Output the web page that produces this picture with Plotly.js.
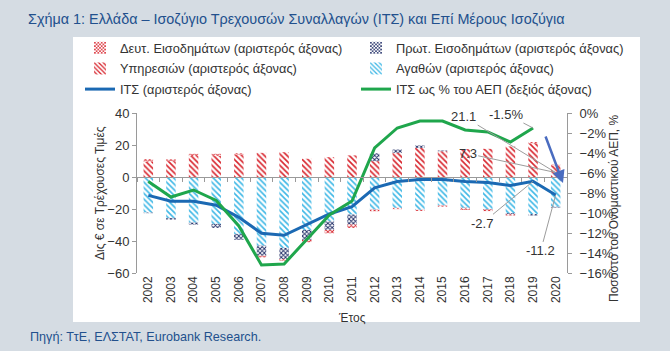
<!DOCTYPE html>
<html>
<head>
<meta charset="utf-8">
<script src="https://cdn.plot.ly/plotly-3.0.1.min.js"></script>
<style>
html,body{margin:0;padding:0;background:#d5dce3;}
#chart{width:670px;height:351px;}
</style>
</head>
<body>
<div id="chart"></div>
<script>
// ---- data (billions €, and % of GDP) ----
const years = ['2002','2003','2004','2005','2006','2007','2008','2009','2010','2011','2012','2013','2014','2015','2016','2017','2018','2019','2020'];
const services  = [9.6, 9.9, 13.2, 13.3, 14.0, 15.1, 15.5, 11.4, 12.4, 13.5, 9.9, 15.2, 18.2, 16.1, 17.4, 17.6, 19.1, 21.1, 7.3];
const goods     = [-22.2, -25.6, -28.5, -29.3, -35.6, -42.9, -44.3, -33.1, -27.7, -23.5, -20.4, -19.3, -20.5, -17.8, -19.2, -20.0, -22.6, -23.2, -18.6];
const primaryInc   = [-0.4, -1.0, -1.2, -2.5, -3.7, -6.3, -6.9, -6.2, -5.4, -6.2, 5.0, 2.0, 1.5, 0.5, -0.4, -0.3, -0.8, -0.9, -0.5];
const secondaryInc = [1.5, 1.1, 1.3, 1.2, 0.9, -1.0, -1.1, -1.5, -2.1, -2.1, -1.0, -0.8, -0.7, -0.7, -1.0, -1.0, -0.7, 0.7, 0.4];
const currentAccount = [-11.5, -15.1, -15.1, -17.6, -25.2, -35.2, -36.4, -29.7, -23.1, -18.5, -6.8, -2.8, -1.6, -1.6, -2.8, -3.4, -5.3, -2.7, -11.2];
const currentAccountGdp = [-6.85, -8.4, -7.7, -8.75, -11.3, -15.2, -15.1, -12.7, -10.2, -8.8, -3.5, -1.5, -0.8, -0.8, -1.7, -1.9, -2.9, -1.5, null];

const names = {
  secondary: 'Δευτ. Εισοδημάτων (αριστερός άξονας)',
  primary: 'Πρωτ. Εισοδημάτων (αριστερός άξονας)',
  services: 'Υπηρεσιών (αριστερός άξονας)',
  goods: 'Αγαθών (αριστερός άξονας)',
  ca: 'ΙΤΣ (αριστερός άξονας)',
  caGdp: 'ΙΤΣ ως % του ΑΕΠ (δεξιός άξονας)'
};

const RED = '#d8262e', LBLUE = '#3fb8e6', NAVY = '#1d2a64', BLUE = '#1b69b3', GREEN = '#1fa64c';
const TXT = '#333333', AX = '#9a9a9a';

function patBar(y, name, fg, shape, size, sol, legend, rank) {
  return {
    type: 'bar', x: years, y: y, name: name, xaxis: 'x', yaxis: 'y',
    legend: legend, legendrank: rank, legendgroup: name,
    marker: {color: fg, line: {width: 0},
      pattern: {shape: shape, fgcolor: fg, bgcolor: 'white', size: size, solidity: sol, fillmode: 'replace'}},
    hoverinfo: 'skip'
  };
}

const traces = [
  patBar(services, names.services, RED, '\\', 4, 0.4, 'legend', 2),
  patBar(goods, names.goods, LBLUE, '\\', 4, 0.4, 'legend2', 2),
  patBar(primaryInc, names.primary, NAVY, 'x', 3, 0.5, 'legend2', 1),
  patBar(secondaryInc, names.secondary, RED, 'x', 3, 0.5, 'legend', 1),
  {type: 'scatter', mode: 'lines', x: years, y: currentAccount, name: names.ca,
   xaxis: 'x2', yaxis: 'y', legend: 'legend', legendrank: 3, legendgroup: 'ca',
   line: {color: BLUE, width: 3}, hoverinfo: 'skip'},
  {type: 'scatter', mode: 'lines', x: years, y: currentAccountGdp, name: names.caGdp,
   xaxis: 'x2', yaxis: 'y2', legend: 'legend2', legendrank: 3, legendgroup: 'cagdp',
   line: {color: GREEN, width: 3}, hoverinfo: 'skip'}
];

const FONT = 'Liberation Sans, Arial, sans-serif';
const B = 78, H = 160, T = 113;
const py = p => (351 - B - p) / H;          // page pixel y -> paper y
const px = p => (p - 137) / 430;           // page pixel x -> paper x
const i19 = years.indexOf('2019'), i20 = years.indexOf('2020');

const leader = {showarrow: true, arrowhead: 0, arrowwidth: 1, arrowcolor: '#9c9c9c', standoff: 0,
  font: {family: FONT, size: 13, color: TXT}, axref: 'pixel', ayref: 'pixel'};

const layout = {
  width: 670, height: 351,
  margin: {l: 137, r: 103, t: T, b: B, pad: 0},
  paper_bgcolor: '#d5dce3', plot_bgcolor: 'rgba(0,0,0,0)',
  font: {family: FONT, size: 12, color: TXT},
  barmode: 'relative', bargap: 0.58,
  title: {text: 'Σχήμα 1: Ελλάδα – Ισοζύγιο Τρεχουσών Συναλλαγών (ΙΤΣ) και Επί Μέρους Ισοζύγια',
    xref: 'container', yref: 'container', x: 28/670, xanchor: 'left', y: 1 - 19/351, yanchor: 'middle',
    font: {family: FONT, size: 14.4, color: '#22508d'}},
  xaxis: {type: 'category', range: [-0.5, 18.5], showline: false, ticks: '', tickangle: -90,
    showgrid: false, zeroline: false, tickfont: {size: 12, color: TXT}},
  xaxis2: {type: 'category', overlaying: 'x', anchor: 'free', position: 0.6, range: [-0.5, 18.5],
    showline: true, linecolor: AX, linewidth: 1, ticks: 'outside', ticklen: 4, tickcolor: AX,
    tickson: 'boundaries', showticklabels: false, showgrid: false, zeroline: false},
  yaxis: {range: [-60, 40], dtick: 20, showgrid: false, zeroline: false, showline: true,
    linecolor: AX, ticks: 'outside', ticklen: 4, tickcolor: AX, tickfont: {size: 13, color: TXT}},
  yaxis2: {overlaying: 'y', side: 'right', anchor: 'free', position: 1, range: [-16, 0], dtick: 2, ticksuffix: '%',
    tickangle: 0, ticklabelstandoff: 5, showgrid: false, zeroline: false, showline: true, linecolor: AX,
    ticks: 'outside', ticklen: 4, tickcolor: AX, tickfont: {size: 13, color: TXT}},
  legend: {x: px(80), y: py(33), xanchor: 'left', yanchor: 'top', orientation: 'v',
    bgcolor: 'rgba(0,0,0,0)', tracegroupgap: 1, font: {family: FONT, size: 12.8, color: TXT}},
  legend2: {x: px(356), y: py(33), xanchor: 'left', yanchor: 'top', orientation: 'v',
    bgcolor: 'rgba(0,0,0,0)', tracegroupgap: 1, font: {family: FONT, size: 12.8, color: TXT}},
  shapes: [{type: 'rect', xref: 'paper', yref: 'paper', layer: 'below',
    x0: px(73), x1: px(640), y0: py(322), y1: py(37), fillcolor: 'white', line: {width: 0}}],
  annotations: [
    {text: 'Δις € σε Τρέχουσες Τιμές', xref: 'paper', yref: 'paper', x: px(100), y: 0.5,
     xanchor: 'center', yanchor: 'middle',
     textangle: -90, showarrow: false, font: {family: FONT, size: 12, color: TXT}},
    {text: 'Ποσοστό του Ονομαστικού ΑΕΠ, %', xref: 'paper', yref: 'paper', x: px(614), y: py(209),
     xanchor: 'center', yanchor: 'middle',
     textangle: -90, showarrow: false, font: {family: FONT, size: 12, color: TXT}},
    {text: 'Έτος', xref: 'paper', yref: 'paper', x: px(352), y: py(318), xanchor: 'center', yanchor: 'middle',
     showarrow: false, font: {family: FONT, size: 12, color: TXT}},
    {text: 'Πηγή: ΤτΕ, ΕΛΣΤΑΤ, Eurobank Research.', xref: 'paper', yref: 'paper', x: px(28), xanchor: 'left',
     y: py(337), yanchor: 'middle', showarrow: false, font: {family: FONT, size: 12.6, color: '#22508d'}},
    Object.assign({}, leader, {text: '21.1', xref: 'x', yref: 'y', x: i20, y: 2.8, ax: -92, ay: -56}),
    Object.assign({}, leader, {text: '7.3', xref: 'x', yref: 'y', x: i20, y: 2.8, ax: -88, ay: -19}),
    Object.assign({}, leader, {text: '-1.5%', xref: 'x', yref: 'y2', x: i19, y: currentAccountGdp[i19], ax: -27, ay: -14}),
    Object.assign({}, leader, {text: '-2.7', xref: 'x', yref: 'y', x: i19, y: currentAccount[i19], ax: -51, ay: 42}),
    Object.assign({}, leader, {text: '-11.2', xref: 'x', yref: 'y', x: i20, y: currentAccount[i20], ax: -15, ay: 56}),
    {text: '', xref: 'paper', yref: 'paper', x: px(563), y: py(183), ax: -18, ay: -48,
     axref: 'pixel', ayref: 'pixel', showarrow: true, arrowhead: 2, arrowsize: 1, arrowwidth: 2.5,
     arrowcolor: '#4a6cc0', standoff: 0}
  ]
};

Plotly.newPlot('chart', traces, layout, {staticPlot: true, displayModeBar: false});
</script>
</body>
</html>
